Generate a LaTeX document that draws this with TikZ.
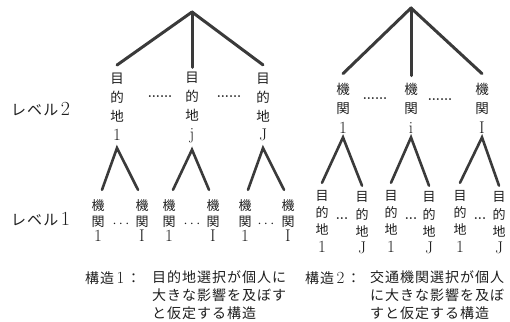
\documentclass[tikz,border=0pt]{standalone}
\usepackage{fontspec}
\newfontfamily\cjk{Noto Sans CJK JP}
\newfontfamily\cjkw[LetterSpace=7]{Noto Sans CJK JP}
\newcommand\lat[1]{{\rmfamily\fontsize{17}{17}\selectfont #1}}
\definecolor{linegray}{HTML}{3A3A3A}
\definecolor{textgray}{HTML}{1E1E1E}
\begin{document}
\begin{tikzpicture}[x=1pt,y=-1pt,
  conn/.style={line width=3pt,draw=linegray,line cap=round},
  sconn/.style={line width=2.6pt,draw=linegray,line cap=round},
  colA/.style={inner sep=0pt,align=center,text=textgray,font=\cjk\fontsize{13.5}{19}\selectfont},
  colB/.style={inner sep=0pt,align=center,text=textgray,font=\cjk\fontsize{13.5}{19.5}\selectfont},
  colC/.style={inner sep=0pt,align=center,text=textgray,font=\cjk\fontsize{13}{15.5}\selectfont},
  colD/.style={inner sep=0pt,align=center,text=textgray,font=\cjk\fontsize{13}{17.3}\selectfont},
  dots/.style={inner sep=0pt,text=textgray,font=\bfseries\fontsize{13}{13}\selectfont},
  lvl/.style={inner sep=0pt,anchor=west,text=textgray,font=\cjkw\fontsize{15}{15}\selectfont},
  captxt/.style={inner sep=0pt,text=textgray,font=\cjkw\fontsize{14}{18}\selectfont},
  capblk/.style={captxt,anchor=north west,align=left}]
\useasboundingbox (0,0) rectangle (510,321);

% ---- left structure, level 2
\coordinate (top1) at (192,12);
\node[colA] (d1) at (117,107) {目\\的\\地\\\lat{1}};
\node[colA] (dj) at (192,107) {目\\的\\地\\\lat{j}};
\node[colA] (dJ) at (263,107) {目\\的\\地\\\lat{J}};
\node[dots] (ld1) at (160,97) {......};
\node[dots] (ld2) at (229,97) {......};
\draw[conn] (top1) -- ([yshift=8pt]d1.north);
\draw[conn] (top1) -- ([yshift=4pt]dj.north);
\draw[conn] (top1) -- ([yshift=8pt]dJ.north);

% ---- left structure, level 1
\node[colC] (k11) at (98,221) {機\\関\\\lat{1}};
\node[colC] (k1I) at (142,221) {機\\関\\\lat{I}};
\node[colC] (k21) at (169,221) {機\\関\\\lat{1}};
\node[colC] (k2I) at (213,221) {機\\関\\\lat{I}};
\node[colC] (k31) at (245,221) {機\\関\\\lat{1}};
\node[colC] (k3I) at (288,221) {機\\関\\\lat{I}};
\node[dots,font=\bfseries\fontsize{14}{14}\selectfont] (kd1) at (121,224) {$\cdots$};
\node[dots,font=\bfseries\fontsize{14}{14}\selectfont] (kd2) at (192,224) {$\cdots$};
\node[dots,font=\bfseries\fontsize{14}{14}\selectfont] (kd3) at (266,224) {$\cdots$};
\coordinate (a1) at ([yshift=-7pt]d1.south);
\coordinate (a2) at ([yshift=-7pt]dj.south);
\coordinate (a3) at ([yshift=-7pt]dJ.south);
\draw[sconn] ([shift={(4pt,10pt)}]k11.north) -- (a1) -- ([shift={(-4pt,10pt)}]k1I.north);
\draw[sconn] ([shift={(4pt,10pt)}]k21.north) -- (a2) -- ([shift={(-4pt,10pt)}]k2I.north);
\draw[sconn] ([shift={(3pt,10pt)}]k31.north) -- (a3) -- ([shift={(-4pt,10pt)}]k3I.north);

% ---- right structure, level 2
\coordinate (top2) at (411,8);
\node[colB] (m1) at (343,108) {機\\関\\\lat{1}};
\node[colB] (mi) at (411,108) {機\\関\\\lat{i}};
\node[colB] (mI) at (482,108) {機\\関\\\lat{I}};
\node[dots] (rd1) at (375,99) {......};
\node[dots] (rd2) at (440,100) {......};
\draw[conn] (top2) -- ([yshift=9pt]m1.north);
\draw[conn] (top2) -- ([yshift=7pt]mi.north);
\draw[conn] (top2) -- ([yshift=9pt]mI.north);

% ---- right structure, level 1
\node[colD] (p11) at (322,221) {目\\的\\地\\\lat{1}};
\node[colD] (p1J) at (362,223) {目\\的\\地\\\lat{J}};
\node[colD] (p21) at (391,221) {目\\的\\地\\\lat{1}};
\node[colD] (p2J) at (429,223) {目\\的\\地\\\lat{J}};
\node[colD] (p31) at (460,221) {目\\的\\地\\\lat{1}};
\node[colD] (p3J) at (499,223) {目\\的\\地\\\lat{J}};
\node[dots] (pd1) at (342,219) {...};
\node[dots] (pd2) at (411,219) {...};
\node[dots] (pd3) at (480,219) {...};
\coordinate (b1) at ([yshift=-4pt]m1.south);
\coordinate (b2) at ([yshift=-4pt]mi.south);
\coordinate (b3) at ([yshift=-4pt]mI.south);
\draw[sconn] ([yshift=7pt]p11.north) -- (b1) -- ([yshift=6pt]p1J.north);
\draw[sconn] ([yshift=7pt]p21.north) -- (b2) -- ([yshift=6pt]p2J.north);
\draw[sconn] ([yshift=7pt]p31.north) -- (b3) -- ([yshift=6pt]p3J.north);

% ---- level labels
\node[lvl] (lv2) at (11,109) {レベル\,{\rmfamily\fontsize{20}{20}\selectfont 2}};
\node[lvl] (lv1) at (11,219) {レベル\,{\rmfamily\fontsize{20}{20}\selectfont 1}};

% ---- captions
\node[captxt,anchor=west] (c1a) at (85,278) {構造\,{\rmfamily\fontsize{17}{17}\selectfont 1}\,：};
\node[capblk] (c1b) at (152,270) {目的地選択が個人に\\大きな影響を及ぼす\\と仮定する構造};
\node[captxt,anchor=west] (c2a) at (305,278) {構造\,{\rmfamily\fontsize{17}{17}\selectfont 2}\,：};
\node[capblk] (c2b) at (370,270) {交通機関選択が個人\\に大きな影響を及ぼ\\すと仮定する構造};
\end{tikzpicture}
\end{document}
